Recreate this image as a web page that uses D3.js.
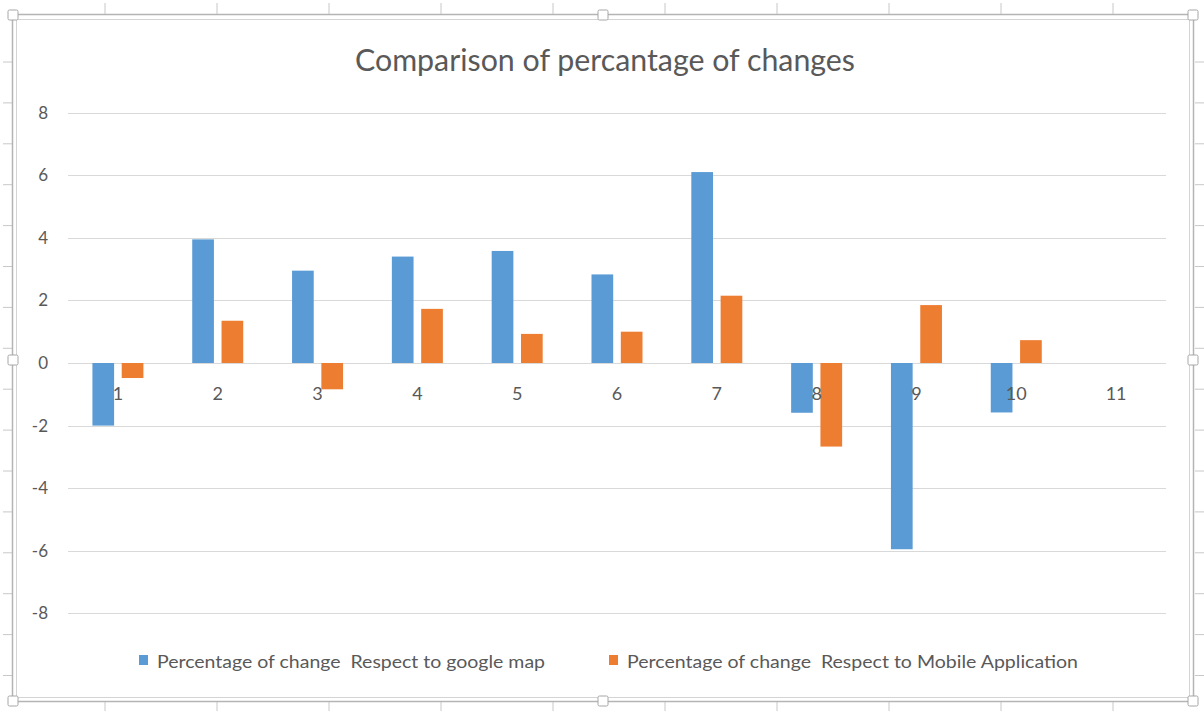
<!DOCTYPE html>
<html>
<head>
<meta charset="utf-8">
<script src="https://cdn.jsdelivr.net/npm/d3@7/dist/d3.min.js"></script>
<style>
  html, body { margin: 0; padding: 0; background: #ffffff; }
  svg { display: block; }
  text { font-family: Lato, "Open Sans", "Liberation Sans", sans-serif; fill: #595959; }
</style>
</head>
<body>
<svg id="chart" width="1204" height="711"></svg>
<script>
// Categories (trial numbers) and the two series of percentage changes
const categories = ["1", "2", "3", "4", "5", "6", "7", "8", "9", "10", "11"];
const googleMapChange = [-2.0, 3.95, 2.95, 3.4, 3.58, 2.83, 6.1, -1.59, -5.95, -1.58, null];
const mobileAppChange = [-0.48, 1.35, -0.84, 1.73, 0.93, 1.0, 2.15, -2.67, 1.85, 0.73, null];
const seriesNames = [
  "Percentage of change  Respect to google map",
  "Percentage of change  Respect to Mobile Application"
];
const seriesColors = ["#5b9bd5", "#ed7d31"];
const yTicks = [-8, -6, -4, -2, 0, 2, 4, 6, 8];
const chartTitle = "Comparison of percantage of changes";

const svg = d3.select("#chart");

// ---- chart frame with selection handles and page ruler marks ----
const frame = svg.append("g");
const rulerX = d3.range(10).map(i => 105 + i * 112);
const rulerY = d3.range(16).map(i => 62 + i * 40.9);
frame.selectAll("line.rx").data(rulerX).join("line")
  .attr("x1", d => d).attr("x2", d => d).attr("y1", 3).attr("y2", 14)
  .attr("stroke", "#c8c8c8").attr("stroke-width", 1);
frame.selectAll("line.ryl").data(rulerY).join("line")
  .attr("x1", 3).attr("x2", 12).attr("y1", d => d).attr("y2", d => d)
  .attr("stroke", "#c8c8c8").attr("stroke-width", 1);
frame.selectAll("line.ryr").data(rulerY).join("line")
  .attr("x1", 1195).attr("x2", 1204).attr("y1", d => d).attr("y2", d => d)
  .attr("stroke", "#c8c8c8").attr("stroke-width", 1);
frame.selectAll("line.rxb").data(rulerX).join("line")
  .attr("x1", d => d).attr("x2", d => d).attr("y1", 702).attr("y2", 711)
  .attr("stroke", "#c8c8c8").attr("stroke-width", 1);

frame.append("rect").attr("x", 12.5).attr("y", 14.5).attr("width", 1181).attr("height", 687)
  .attr("fill", "none").attr("stroke", "#b4b4b4").attr("stroke-width", 1.5);
frame.append("rect").attr("x", 16.5).attr("y", 19.5).attr("width", 1173).attr("height", 678)
  .attr("fill", "#ffffff").attr("stroke", "#d4d4d4").attr("stroke-width", 1);

const handles = [
  [13, 15], [603, 15], [1193, 15],
  [13, 360], [1193, 360],
  [13, 701], [603, 701], [1193, 701]
];
frame.selectAll("rect.handle").data(handles).join("rect")
  .attr("class", "handle")
  .attr("x", d => d[0] - 5).attr("y", d => d[1] - 5)
  .attr("width", 10).attr("height", 10).attr("rx", 1.5)
  .attr("fill", "#ffffff").attr("stroke", "#a6a6a6").attr("stroke-width", 1);

// ---- scales ----
const x = d3.scaleBand().domain(categories).range([68, 1166]).paddingInner(0).paddingOuter(0);
const y = d3.scaleLinear().domain([-8, 8]).range([613.4, 112.6]);
const xs = d3.scaleBand().domain([0, 1]).range([-25.5, 25.5]).paddingInner(0.26).paddingOuter(0);

// ---- title ----
svg.append("text")
  .attr("x", 355).attr("y", 71)
  .attr("font-size", 31)
  .attr("textLength", 500)
  .attr("lengthAdjust", "spacingAndGlyphs")
  .style("font-weight", 400)
  .text(chartTitle);

// ---- gridlines ----
svg.append("g").selectAll("line").data(yTicks).join("line")
  .attr("x1", 68).attr("x2", 1166)
  .attr("y1", d => Math.round(y(d)) + 0.5).attr("y2", d => Math.round(y(d)) + 0.5)
  .attr("stroke", "#d9d9d9").attr("stroke-width", 1.2);

// ---- y axis labels ----
const yAxis = d3.axisLeft(y).tickValues(yTicks).tickSize(0).tickPadding(0)
  .tickFormat(d => d3.format("d")(d).replace("−", "-"));
const yg = svg.append("g").attr("transform", "translate(48,0)").call(yAxis);
yg.select(".domain").remove();
yg.selectAll("text").attr("font-size", 17).attr("fill", "#595959")
  .style("font-family", "Lato, 'Open Sans', sans-serif");

// ---- bars ----
const seriesData = [googleMapChange, mobileAppChange];
seriesData.forEach((vals, s) => {
  svg.append("g").selectAll("rect")
    .data(categories.map((c, i) => ({ c, v: vals[i] })).filter(d => d.v !== null))
    .join("rect")
    .attr("x", d => x(d.c) + x.bandwidth() / 2 + xs(s))
    .attr("width", xs.bandwidth())
    .attr("y", d => y(Math.max(0, d.v)))
    .attr("height", d => Math.abs(y(d.v) - y(0)))
    .attr("fill", seriesColors[s]);
});

// ---- category labels (drawn next to the zero line, over the bars) ----
const xAxis = d3.axisBottom(x).tickSize(0).tickPadding(0);
const xg = svg.append("g").attr("transform", `translate(0,${y(0)})`).call(xAxis);
xg.select(".domain").remove();
xg.selectAll("text").attr("font-size", 18).attr("fill", "#595959").attr("dy", 0).attr("y", 37)
  .style("font-family", "Lato, 'Open Sans', sans-serif");

// ---- legend ----
const legendX = [139, 609];
const legendW = [388, 451];
const lg = svg.append("g");
seriesNames.forEach((name, i) => {
  lg.append("rect").attr("x", legendX[i]).attr("y", 655).attr("width", 9).attr("height", 10)
    .attr("fill", seriesColors[i]);
  lg.append("text").attr("x", legendX[i] + 18).attr("y", 668)
    .attr("font-size", 18)
    .attr("textLength", legendW[i])
    .attr("lengthAdjust", "spacingAndGlyphs")
    .style("white-space", "pre")
    .text(name);
});
</script>
</body>
</html>
